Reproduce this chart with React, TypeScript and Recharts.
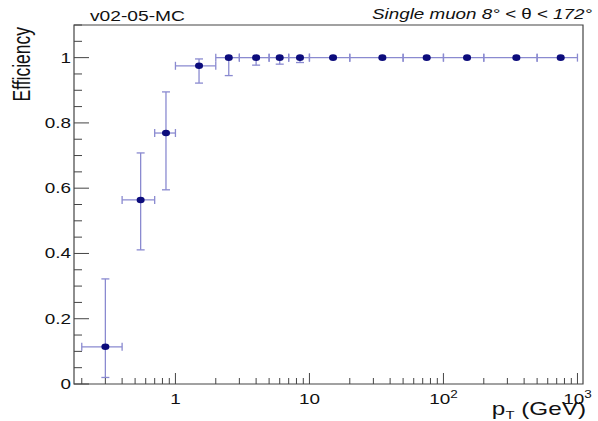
import React from 'react';
import { ScatterChart, Scatter, XAxis, YAxis, ErrorBar, ReferenceArea } from 'recharts';

// pT bins (GeV) and measured efficiency
const binLow = [0.2, 0.4, 0.7, 1, 2, 3, 5, 7, 10, 20, 50, 100, 200, 500];
const binHigh = [0.4, 0.7, 1, 2, 3, 5, 7, 10, 20, 50, 100, 200, 500, 1000];
const ptCenter = [0.3, 0.55, 0.85, 1.5, 2.5, 4, 6, 8.5, 15, 35, 75, 150, 350, 750];
const efficiency = [0.114, 0.564, 0.769, 0.975, 1, 1, 1, 1, 1, 1, 1, 1, 1, 1];
const errLow = [0.094, 0.153, 0.174, 0.053, 0.055, 0.023, 0.02, 0.015, 0, 0, 0, 0, 0, 0];
const errHigh = [0.208, 0.144, 0.126, 0.021, 0, 0, 0, 0, 0, 0, 0, 0, 0, 0];

const xTicks = [
  0.2, 0.3, 0.4, 0.5, 0.6, 0.7, 0.8, 0.9,
  1, 2, 3, 4, 5, 6, 7, 8, 9,
  10, 20, 30, 40, 50, 60, 70, 80, 90,
  100, 200, 300, 400, 500, 600, 700, 800, 900, 1000,
];
const xMajor = [1, 10, 100, 1000];
const xLabelBase = ['1', '10', '10', '10'];
const xLabelExp = ['', '', '2', '3'];

const yTicks = [
  0, 0.05, 0.1, 0.15, 0.2, 0.25, 0.3, 0.35, 0.4, 0.45, 0.5, 0.55,
  0.6, 0.65, 0.7, 0.75, 0.8, 0.85, 0.9, 0.95, 1, 1.05, 1.1,
];
const yMajor = [0, 0.2, 0.4, 0.6, 0.8, 1];
const yLabels = ['0', '0.2', '0.4', '0.6', '0.8', '1'];

const data = ptCenter.map((pt, i) => ({
  pt,
  eff: efficiency[i],
  xErr: [pt - binLow[i], binHigh[i] - pt],
  yErr: [errLow[i], errHigh[i]],
}));

const FONT = '"Liberation Sans", Arial, Helvetica, sans-serif';
const STRETCH = 1.35;
const AXIS_COLOR = '#444';
const BAR_COLOR = '#8a8ad0';
const MARKER_COLOR = '#0c0c7c';

const XTick = (props: any) => {
  const { x, y, payload } = props;
  const idx = xMajor.findIndex((v) => Math.abs(v - payload.value) < 1e-9);
  const len = idx >= 0 ? 11 : 6;
  return (
    <g>
      <line x1={x} x2={x} y1={y} y2={y - len} stroke={AXIS_COLOR} strokeWidth={1} />
      {idx >= 0 && (
        <text
          transform={`translate(${x},${y + 20}) scale(${STRETCH},1)`}
          textAnchor="middle"
          fontFamily={FONT}
          fontSize={14}
          fill="#111"
        >
          {xLabelBase[idx]}
          {xLabelExp[idx] && (
            <tspan dy={-6} fontSize={10}>
              {xLabelExp[idx]}
            </tspan>
          )}
        </text>
      )}
    </g>
  );
};

const YTick = (props: any) => {
  const { x, y, payload } = props;
  const idx = yMajor.findIndex((v) => Math.abs(v - payload.value) < 1e-6);
  const len = idx >= 0 ? 15 : 8;
  return (
    <g>
      <line x1={x} x2={x + len} y1={y} y2={y} stroke={AXIS_COLOR} strokeWidth={1} />
      {idx >= 0 && (
        <text
          transform={`translate(${x - 3},${y + 5}) scale(${STRETCH},1)`}
          textAnchor="end"
          fontFamily={FONT}
          fontSize={14}
          fill="#111"
        >
          {yLabels[idx]}
        </text>
      )}
    </g>
  );
};

const Marker = (props: any) => {
  const { cx, cy } = props;
  return <ellipse cx={cx} cy={cy} rx={4} ry={3.3} fill={MARKER_COLOR} />;
};

export default function App() {
  return (
    <div style={{ position: 'absolute', left: 0, top: 0, width: 598, height: 421, background: '#fff' }}>
      <ScatterChart width={598} height={421} margin={{ top: 25, right: 15, bottom: 0, left: 0 }}>
        <XAxis
          type="number"
          dataKey="pt"
          scale="log"
          domain={[0.175, 1100]}
          allowDataOverflow
          ticks={xTicks}
          interval={0}
          tick={<XTick />}
          tickSize={0}
          tickMargin={0}
          axisLine={false}
          height={37}
        />
        <YAxis
          type="number"
          dataKey="eff"
          domain={[0, 1.1]}
          allowDataOverflow
          ticks={yTicks}
          interval={0}
          tick={<YTick />}
          tickSize={0}
          tickMargin={0}
          axisLine={false}
          width={74}
        />
        <ReferenceArea
          x1={0.175}
          x2={1100}
          y1={0}
          y2={1.1}
          fill="none"
          stroke={AXIS_COLOR}
          strokeWidth={1.2}
          ifOverflow="visible"
        />
        <Scatter data={data} shape={<Marker />} isAnimationActive={false}>
          <ErrorBar dataKey="xErr" direction="x" width={4} stroke={BAR_COLOR} strokeWidth={1.3} />
          <ErrorBar dataKey="yErr" direction="y" width={4} stroke={BAR_COLOR} strokeWidth={1.3} />
        </Scatter>
      </ScatterChart>
      <svg
        width={598}
        height={421}
        style={{ position: 'absolute', left: 0, top: 0, pointerEvents: 'none' }}
      >
        <text x={90} y={21} fontFamily={FONT} fontSize={14} fill="#111" textLength={95} lengthAdjust="spacingAndGlyphs">
          v02-05-MC
        </text>
        <text
          x={372}
          y={19}
          fontFamily={FONT}
          fontSize={14.5}
          fontStyle="italic"
          fill="#111"
          textLength={220}
          lengthAdjust="spacingAndGlyphs"
        >
          Single muon 8° &lt; <tspan fontStyle="normal">θ</tspan> &lt; 172°
        </text>
        <text
          transform={`translate(30,27) scale(${STRETCH},1) rotate(-90)`}
          textAnchor="end"
          fontFamily={FONT}
          fontSize={17.5}
          fill="#111"
        >
          Efficiency
        </text>
        <text
          transform={`translate(586,415) scale(${STRETCH},1)`}
          textAnchor="end"
          fontFamily={FONT}
          fontSize={18}
          fill="#111"
        >
          p
          <tspan dy={4} fontSize={11}>
            T
          </tspan>
          <tspan dy={-4}> (GeV)</tspan>
        </text>
      </svg>
    </div>
  );
}
